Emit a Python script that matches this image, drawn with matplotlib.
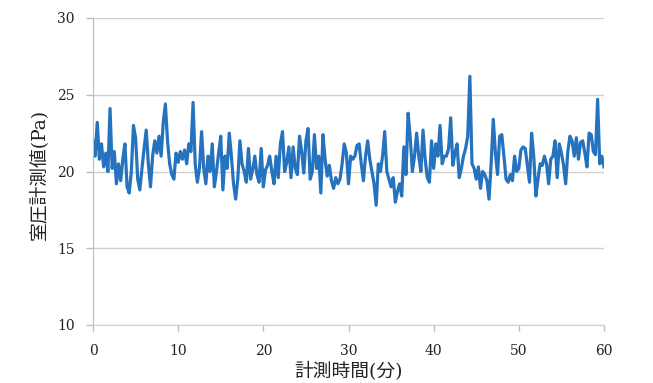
import matplotlib
matplotlib.use("Agg")
import matplotlib.pyplot as plt
import numpy as np

# time axis (minutes), sampled every 0.25 min
minutes = [i * 0.25 for i in range(241)]

pressure = [
    # 0 - 7.25
    22.0, 21.0, 23.2, 20.8, 21.8, 20.3, 21.2, 20.0, 24.1, 20.2,
    21.3, 19.2, 20.5, 19.4, 20.8, 21.8, 19.0, 18.6, 20.0, 23.0,
    22.2, 19.5, 18.8, 20.2, 21.5, 22.7, 20.5, 19.0, 21.0, 22.0,
    # 7.5 - 14.75
    21.2, 22.3, 21.0, 23.2, 24.4, 22.0, 20.5, 19.8, 19.5, 21.2,
    20.6, 21.3, 20.8, 21.4, 20.5, 21.8, 21.3, 24.5, 20.5, 19.3,
    20.2, 22.6, 20.2, 19.2, 21.0, 20.0, 21.8, 19.0, 20.0, 21.2,
    # 15.0 - 22.25
    22.3, 18.8, 21.0, 20.2, 22.5, 21.0, 19.2, 18.2, 19.5, 22.0,
    20.5, 20.0, 19.3, 21.5, 19.5, 20.1, 21.0, 19.8, 19.3, 21.5,
    19.0, 20.1, 20.4, 21.0, 20.0, 19.2, 21.0, 19.6, 21.8, 22.6,
    # 22.5 - 29.75
    20.0, 20.6, 21.6, 19.6, 21.6, 20.2, 19.8, 22.3, 21.3, 19.9,
    22.0, 22.8, 19.5, 20.0, 22.4, 20.2, 21.0, 18.6, 22.4, 20.8,
    19.7, 20.4, 19.4, 18.9, 19.6, 19.2, 19.5, 20.5, 21.8, 21.2,
    # 30.0 - 37.25
    19.2, 21.0, 20.8, 21.0, 21.7, 21.8, 20.5, 19.4, 21.0, 22.0,
    20.8, 20.0, 19.2, 17.8, 20.5, 20.0, 21.0, 22.6, 20.0, 19.5,
    19.0, 19.6, 18.0, 18.7, 19.2, 18.4, 21.6, 19.8, 23.8, 22.2,
    # 37.5 - 44.75
    20.0, 21.0, 22.5, 21.0, 20.0, 22.7, 20.8, 19.6, 19.3, 22.0,
    20.2, 21.8, 21.0, 23.0, 20.5, 21.0, 21.0, 21.5, 23.5, 20.4,
    21.2, 21.8, 19.6, 20.2, 21.0, 21.5, 22.3, 26.2, 20.5, 20.2,
    # 45.0 - 52.25
    19.5, 20.3, 18.9, 20.0, 19.8, 19.4, 18.2, 20.5, 23.4, 21.2,
    19.8, 22.3, 22.4, 21.0, 19.5, 19.3, 19.8, 19.4, 21.0, 20.0,
    20.2, 21.4, 21.6, 21.5, 20.4, 19.3, 22.5, 21.0, 18.4, 19.5,
    # 52.5 - 60.0
    20.5, 20.4, 21.0, 20.5, 19.2, 20.8, 21.0, 22.0, 19.6, 21.8,
    21.2, 20.4, 19.2, 21.3, 22.3, 22.0, 21.0, 22.2, 20.8, 21.9,
    22.0, 21.2, 20.3, 22.5, 22.4, 21.3, 21.1, 24.7, 20.5, 21.0,
    20.3,
]

y_ticks = [10, 15, 20, 25, 30]
x_ticks = [0, 10, 20, 30, 40, 50, 60]
x_label = "計測時間(分)"
y_label = "室圧計測値(Pa)"

fig = plt.figure(figsize=(6.53, 3.83), dpi=100)
ax = fig.add_axes([93/653, 1-325/383, (604-93)/653, (325-18)/383])

ax.plot(minutes, pressure, color="#2573be", linewidth=2.3, solid_joinstyle="round")

ax.set_xlim(0, 60)
ax.set_ylim(10, 30)
ax.set_xticks(x_ticks)
ax.set_yticks(y_ticks)
ax.yaxis.grid(True, color="#d0d0d0", linewidth=1.0)
ax.set_axisbelow(True)
for s in ["top", "right"]:
    ax.spines[s].set_visible(False)
ax.spines["left"].set_color("#bdbdbd")
ax.spines["bottom"].set_color("#d0d0d0")
ax.tick_params(axis="both", colors="#bdbdbd", length=5, width=1,
               labelcolor="#222222", labelsize=10)
ax.tick_params(axis="y", pad=8)
ax.tick_params(axis="x", pad=9.5, length=4)
for lbl in ax.get_xticklabels() + ax.get_yticklabels():
    lbl.set_fontfamily(["DejaVu Serif"])

fam = ["DejaVu Serif", "Noto Sans CJK JP"]
ax.set_xlabel(x_label, family=fam, fontsize=13.5, color="#222222")
ax.set_ylabel(y_label, family=fam, fontsize=13.5, color="#222222")
ax.xaxis.set_label_coords(0.5, (325-372)/307)
ax.yaxis.set_label_coords((39-93)/511, (325-174)/307)
ax.xaxis.label.set_va("center")
ax.yaxis.label.set_va("center")

fig.savefig("out.png", dpi=100)
